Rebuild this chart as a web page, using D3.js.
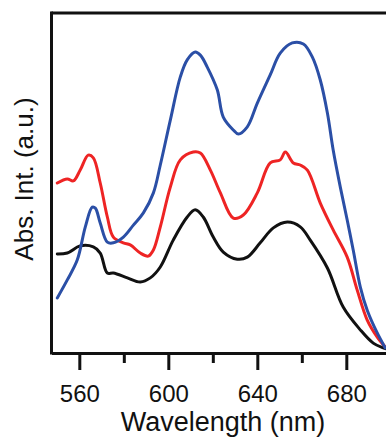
<!DOCTYPE html>
<html><head><meta charset="utf-8">
<script src="https://cdn.jsdelivr.net/npm/d3@7/dist/d3.min.js"></script>
<style>html,body{margin:0;padding:0;background:#fff;overflow:hidden}</style>
</head><body><svg id="c" width="386" height="437"></svg>
<script>
const majorTicks = [560, 600, 640, 680];
const minorTicks = [580, 620, 660];
const xLabel = "Wavelength (nm)";
const yLabel = "Abs. Int. (a.u.)";

const blackNm = [550.1,554.6,560.4,566.3,569.4,572.6,575.3,581.6,587.4,591.9,596.4,602.2,608.5,612.1,615.7,620.2,624.7,631.0,635.5,641.3,647.2,653.5,659.3,663.8,671.5,678.6,686.3,692.1,696.6,698.0];
const blackVal = [0.291,0.294,0.315,0.312,0.294,0.235,0.235,0.221,0.209,0.221,0.253,0.332,0.400,0.421,0.400,0.341,0.297,0.276,0.282,0.324,0.368,0.385,0.371,0.332,0.250,0.135,0.068,0.029,0.015,0.012];

const redNm = [550.1,554.6,557.3,560.4,564.0,566.3,569.4,572.6,575.3,579.8,582.9,587.4,591.0,593.3,596.4,600.9,605.4,611.2,614.4,618.9,623.4,629.2,633.7,640.0,645.8,650.3,652.6,656.2,659.3,662.5,668.3,674.1,680.4,684.9,689.4,693.9,697.5];
const redVal = [0.500,0.512,0.506,0.538,0.582,0.574,0.500,0.400,0.341,0.324,0.318,0.294,0.285,0.303,0.371,0.488,0.568,0.591,0.588,0.538,0.471,0.397,0.406,0.471,0.559,0.568,0.591,0.559,0.553,0.538,0.441,0.362,0.282,0.185,0.097,0.047,0.018];

const blueNm = [550.1,554.6,559.1,562.7,565.8,567.2,569.4,572.6,575.3,579.8,584.3,588.8,593.3,596.4,600.9,605.4,608.5,612.1,614.4,617.5,622.0,624.7,629.2,631.5,635.5,640.0,645.8,650.3,655.7,660.7,664.7,668.3,671.5,674.1,677.3,680.4,683.1,686.3,689.4,693.9,697.5];
const blueVal = [0.162,0.215,0.274,0.371,0.429,0.426,0.382,0.326,0.324,0.341,0.376,0.412,0.471,0.553,0.685,0.812,0.862,0.885,0.876,0.841,0.774,0.694,0.656,0.644,0.665,0.735,0.818,0.882,0.912,0.909,0.871,0.803,0.706,0.597,0.488,0.391,0.303,0.194,0.126,0.059,0.015];

const svg = d3.select("#c");
const L = 51.5, T = 13, B = 353;
const x = d3.scaleLinear().domain([547.5, 700]).range([L, L + 152.5 * 2.225]);
const y = d3.scaleLinear().domain([0, 1]).range([B, T]);

svg.append("clipPath").attr("id","clip").append("rect")
  .attr("x", L).attr("y", T).attr("width", 400).attr("height", B - T);

const line = d3.line().x(d => x(d[0])).y(d => y(d[1])).curve(d3.curveCatmullRom.alpha(0.5));
const series = [
  {nm: blackNm, v: blackVal, c: "#111111"},
  {nm: redNm, v: redVal, c: "#ee2424"},
  {nm: blueNm, v: blueVal, c: "#2b4fa6"}
];
const g = svg.append("g").attr("clip-path","url(#clip)");
series.forEach(s => {
  g.append("path").datum(s.nm.map((n,i)=>[n, s.v[i]]))
    .attr("d", line).attr("fill","none").attr("stroke", s.c)
    .attr("stroke-width", 3).attr("stroke-linejoin","round").attr("stroke-linecap","round");
});

// frame
svg.append("line").attr("x1", L).attr("x2", 386).attr("y1", T).attr("y2", T)
  .attr("stroke","#111").attr("stroke-width",3);
svg.append("line").attr("x1", L).attr("x2", L).attr("y1", T - 1.5).attr("y2", B + 1.5)
  .attr("stroke","#111").attr("stroke-width",3);

const ax = svg.append("g").attr("transform", `translate(0,${B})`)
  .call(d3.axisBottom(x).tickValues(majorTicks).tickSize(17).tickSizeOuter(0).tickFormat(d3.format("d")));
ax.select(".domain").attr("stroke","#111").attr("stroke-width",3);
ax.selectAll(".tick line").attr("stroke","#111").attr("stroke-width",3);
ax.selectAll(".tick text").attr("y", 49).attr("dy", 0)
  .attr("font-family","'Liberation Sans', Arial, sans-serif").attr("font-size", 24).attr("fill","#111");

const axm = svg.append("g").attr("transform", `translate(0,${B})`)
  .call(d3.axisBottom(x).tickValues(minorTicks).tickSize(10).tickSizeOuter(0).tickFormat(""));
axm.select(".domain").remove();
axm.selectAll(".tick line").attr("stroke","#111").attr("stroke-width",3);

svg.append("text").attr("x", 223).attr("y", 431).attr("text-anchor","middle")
  .attr("font-family","'Liberation Sans', Arial, sans-serif").attr("font-size", 27).attr("fill","#111")
  .text(xLabel);
svg.append("text").attr("transform","translate(33,179) rotate(-90)").attr("text-anchor","middle")
  .attr("font-family","'Liberation Sans', Arial, sans-serif").attr("font-size", 26).attr("fill","#111")
  .text(yLabel);
</script></body></html>
